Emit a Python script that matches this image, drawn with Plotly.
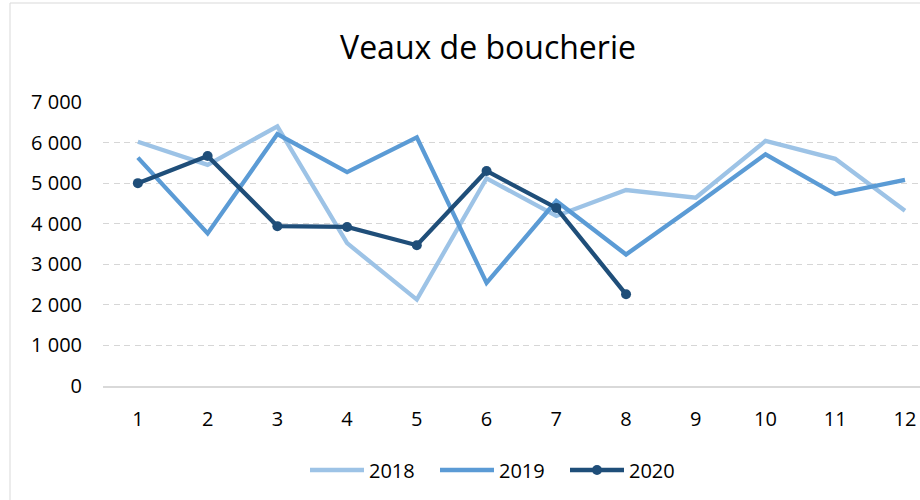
import plotly.graph_objects as go

months = list(range(1, 13))
v2018 = [6020, 5450, 6400, 3520, 2130, 5120, 4190, 4830, 4640, 6040, 5600, 4320]
v2019 = [5630, 3760, 6210, 5270, 6130, 2540, 4560, 3240, 4460, 5710, 4730, 5080]
months_2020 = [1, 2, 3, 4, 5, 6, 7, 8]
v2020 = [5000, 5670, 3940, 3920, 3470, 5300, 4390, 2260]
y_ticks = [0, 1000, 2000, 3000, 4000, 5000, 6000, 7000]

FONT = "Open Sans"

fig = go.Figure()
fig.add_trace(go.Scatter(x=months, y=v2018, name="2018", mode="lines",
                         line=dict(color="#9dc3e6", width=4.3)))
fig.add_trace(go.Scatter(x=months, y=v2019, name="2019", mode="lines",
                         line=dict(color="#5b9bd5", width=4.3)))
fig.add_trace(go.Scatter(x=months_2020, y=v2020, name="2020", mode="lines+markers",
                         line=dict(color="#1f4e79", width=4.3),
                         marker=dict(color="#1f4e79", size=10)))

W, H = 920, 500
L, R, T = 103, 0, 102
B = H - 386
pw = W - L - R
ph = H - T - B
bottom = H - B

fig.add_shape(type="rect", xref="paper", yref="paper",
              x0=(10 - L) / pw, x1=1.05,
              y0=-(H + 20 - bottom) / ph, y1=(bottom - 3) / ph,
              line=dict(color="#d9d9d9", width=1), fillcolor="rgba(0,0,0,0)", layer="below")

fig.update_layout(
    width=W, height=H,
    margin=dict(l=L, r=R, t=T, b=B),
    paper_bgcolor="white", plot_bgcolor="white",
    separators=", ",
    font=dict(family=FONT, size=20, color="#000000"),
    title=dict(text="Veaux de boucherie", x=488 / W, xref="container", xanchor="center",
               y=1 - 48 / H, yref="container", yanchor="middle",
               font=dict(family=FONT, size=32, color="#000000")),
    xaxis=dict(range=[0.5, 12 + (920 - 905) / 69.7], tickvals=months,
               ticktext=[str(m) for m in months],
               showgrid=False, zeroline=False, showline=True, linecolor="#d9d9d9", linewidth=1.5,
               ticks="", ticklabelstandoff=14, tickfont=dict(size=20)),
    yaxis=dict(range=[0, 7000], tickvals=y_ticks, tickformat=",d",
               showgrid=True, gridcolor="#d6d6d6", gridwidth=1.3, griddash="6px,4.5px",
               zeroline=False, showline=False, ticks="", ticklabelstandoff=20,
               tickfont=dict(size=20)),
    showlegend=True,
    legend=dict(orientation="h", x=(500 - L) / pw, xanchor="center",
                y=-(470 - bottom) / ph, yanchor="middle", font=dict(size=20),
                itemwidth=54, entrywidth=61, entrywidthmode="pixels", traceorder="normal"),
)

fig.write_html("out.html", config={"displayModeBar": False},
               post_script="document.body.style.margin='0px';")
